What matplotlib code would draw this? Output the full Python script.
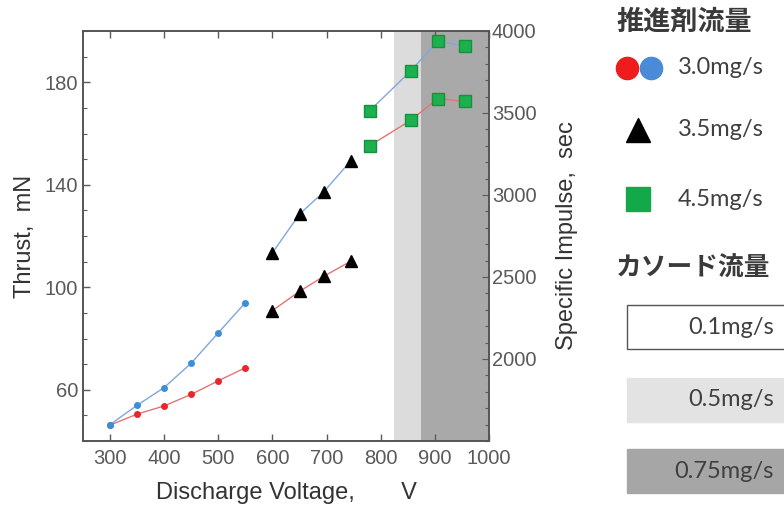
import matplotlib
matplotlib.use("Agg")
import matplotlib.pyplot as plt
from matplotlib.patches import Rectangle
from matplotlib.ticker import MultipleLocator
import numpy as np

# discharge voltage [V]
v_30 = [300, 350, 400, 450, 500, 550]
v_35 = [600, 650, 695, 745]
v_45 = [780, 855, 905, 955]

# thrust [mN] (left axis, red line)
thrust_30 = [46.2, 50.5, 53.7, 58.2, 63.5, 68.6]
thrust_35 = [90.9, 98.4, 104.3, 110.2]
thrust_45 = [155.3, 165.1, 173.6, 172.5]

# specific impulse [sec] (right axis, blue line)
isp_30 = [1600, 1718, 1826, 1975, 2160, 2344]
isp_35 = [2648, 2883, 3020, 3210]
isp_45 = [3515, 3755, 3937, 3910]

# cathode flow bands on the voltage axis
band_light = (825, 875)
band_dark = (875, 1000)

plt.rcParams['font.family'] = ['Liberation Sans', 'DejaVu Sans']

fig = plt.figure(figsize=(7.84, 5.07), dpi=100)
ax = fig.add_axes([83 / 784, 66 / 507, 406 / 784, 410 / 507])
ax2 = ax.twinx()

ax.axvspan(*band_light, color='#dcdcdc', lw=0, zorder=0)
ax.axvspan(*band_dark, color='#a9a9a9', lw=0, zorder=0)

red_line = '#e57373'
blue_line = '#7fa6de'

# thrust (left)
for v, t in [(v_30, thrust_30), (v_35, thrust_35), (v_45, thrust_45)]:
    ax.plot(v, t, color=red_line, lw=1.0, zorder=2)
ax.plot(v_30, thrust_30, 'o', color='#e8262b', ms=4, zorder=3)
ax.plot(v_35, thrust_35, '^', color='black', ms=8, zorder=3)
ax.plot(v_45, thrust_45, 's', color='#1db04f', mec='#13913d', ms=8, zorder=3)

# specific impulse (right)
for v, s in [(v_30, isp_30), (v_35, isp_35), (v_45, isp_45)]:
    ax2.plot(v, s, color=blue_line, lw=1.0, zorder=2)
ax2.plot(v_30, isp_30, 'o', color='#3b8fd9', ms=4, zorder=3)
ax2.plot(v_35, isp_35, '^', color='black', ms=8, zorder=3)
ax2.plot(v_45, isp_45, 's', color='#1db04f', mec='#13913d', ms=8, zorder=3)

ax.set_xlim(250, 1000)
ax.set_ylim(40, 200)
ax2.set_ylim(1500, 4000)
ax.set_xticks(np.arange(300, 1001, 100))
ax.set_yticks([60, 100, 140, 180])
ax.yaxis.set_minor_locator(MultipleLocator(10))
ax2.set_yticks([2000, 2500, 3000, 3500, 4000])
ax2.yaxis.set_minor_locator(MultipleLocator(100))

tick_col = '#5a5a5a'
ax.tick_params(axis='both', which='both', direction='in', colors=tick_col,
               labelsize=14.5, top=True, right=False)
ax.tick_params(axis='y', which='major', length=5, width=1)
ax.tick_params(axis='y', which='minor', length=3, width=0.8)
ax.tick_params(axis='x', length=5, width=1, pad=6)
ax2.tick_params(axis='y', which='both', direction='in', colors=tick_col, labelsize=14.5, pad=2)
ax2.tick_params(axis='y', which='major', length=5)
ax2.tick_params(axis='y', which='minor', length=3, width=0.8)

for a in (ax, ax2):
    for sp in a.spines.values():
        sp.set_color('#555555')
        sp.set_linewidth(1.2)

ax.set_xlabel('Discharge Voltage,       V', fontsize=17, color='#333333', labelpad=10)
ax.set_ylabel('Thrust,  mN', fontsize=17, color='#333333', labelpad=6)
ax2.set_ylabel('Specific Impulse,  sec', fontsize=17, color='#333333', labelpad=14)

# legend panel in pixel coordinates
lg = fig.add_axes([0, 0, 1, 1], zorder=5)
lg.set_xlim(0, 784)
lg.set_ylim(507, 0)
lg.axis('off')

cjk = ['Noto Sans CJK JP', 'DejaVu Sans']
leg_txt = ['Lato', 'DejaVu Sans']
lg.text(684, 22, '推進剤流量', family=cjk, fontsize=19.5, fontweight='bold',
        color='#3a3a3a', ha='center', va='center')
lg.plot([627], [68], 'o', color='#ee1c1c', ms=16)
lg.plot([651], [68], 'o', color='#4a8ad6', ms=16)
lg.text(678, 68, '3.0mg/s', family=leg_txt, fontsize=17, color='#404040', va='center')
lg.plot([638], [130], '^', color='black', ms=17)
lg.text(678, 130, '3.5mg/s', family=leg_txt, fontsize=17, color='#404040', va='center')
lg.plot([638], [199], 's', color='#13a84a', ms=17)
lg.text(678, 199, '4.5mg/s', family=leg_txt, fontsize=17, color='#404040', va='center')

lg.text(693, 268, 'カソード流量', family=cjk, fontsize=18.5, fontweight='bold',
        color='#3a3a3a', ha='center', va='center')
boxes = [('0.1mg/s', 'white', '#555555', 327), ('0.5mg/s', '#e3e3e3', '#e3e3e3', 400),
         ('0.75mg/s', '#a6a6a6', '#a6a6a6', 471)]
for label, fc, ec, yc in boxes:
    lg.add_patch(Rectangle((627, yc - 22), 170, 44, facecolor=fc, edgecolor=ec, lw=1.0,
                           clip_on=False))
    lg.text(774, yc, label, family=leg_txt, fontsize=17, color='#404040',
            ha='right', va='center')

fig.savefig('out.png', dpi=100)
